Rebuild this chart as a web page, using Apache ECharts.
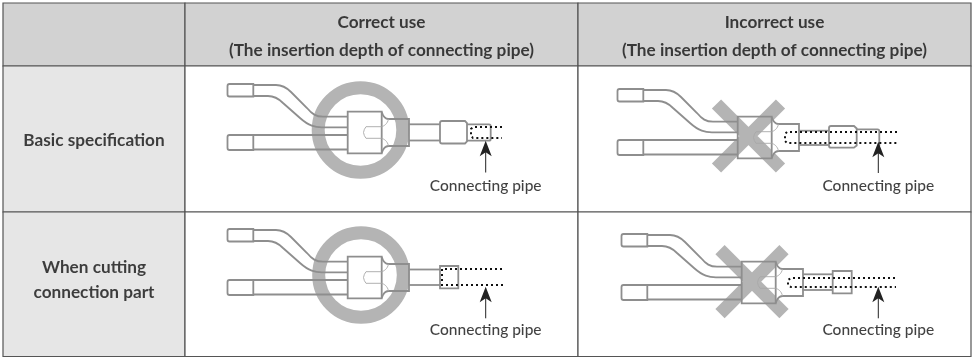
<!DOCTYPE html>
<html>
<head>
<meta charset="utf-8">
<style>html,body{margin:0;padding:0;background:#fff}#chart{width:974px;height:358px}</style>
<script src="https://cdn.jsdelivr.net/npm/echarts@6/dist/echarts.min.js"></script>
</head>
<body>
<div id="chart"></div>
<script>
// table layout (axis units are the picture's pixels)
const columnEdges = [3, 185, 578, 971];
const rowEdges = [3, 66, 212, 356.5];
const headerTitles = ["Correct use", "Incorrect use"];
const headerNote = "(The insertion depth of connecting pipe)";
const rowTitles = [["Basic specification"], ["When cutting", "connection part"]];
const pipeLabel = "Connecting pipe";

// where each of the four fittings sits: correct/incorrect, basic/cut
const fittingOffsets = [[0, 0], [390, 5], [0, 145], [394, 150]];

// the shared Y-branch fitting, drawn at offset 0,0
const fittingPaths = [
  "M229.5 84 L253.3 84 L253.3 96.5 L229.5 96.5 Q227.5 96.5 227.5 94.5 L227.5 86 Q227.5 84 229.5 84 Z",
  "M229.5 135 L253.3 135 L253.3 150 L229.5 150 Q227.5 150 227.5 148 L227.5 137 Q227.5 135 229.5 135 Z",
  "M253.3 85 L276 85 C282 85 287 88 291 92 L307 108 C312 114 316 116.7 323 116.7 L347.7 116.7",
  "M253.3 96 L268 96 C274 96 279 99 283 103 L300 118 C309 126 315 127.3 322 127.3 L347.7 127.3",
  "M253.3 135 L347.7 135",
  "M253.3 149.5 L347.7 149.5",
  "M347.7 111.7 L381.7 111.7 L381.7 153.3 L347.7 153.3 Z",
  "M381.7 112 C383 116 385 119 388.5 119 L409 119 L409 146 L388.5 146 C385 146 383 149 381.7 153",
];
const fittingThinPaths = [
  "M381.7 126.7 L366 126.7 Q364 129 363.5 132.5 Q364 136 366 138.3 L381.7 138.3",
  "M381.7 126.7 C384 126 387.5 124 388.5 119",
  "M381.7 138.3 C384 139 387.5 141 388.5 146",
];
const tulipFills = [
  "M381.7 112 C383 116 385 119 388.5 119 C387.5 124 384 126 381.7 126.7 Z",
  "M381.7 153 C383 149 385 146 388.5 146 C387.5 141 384 139 381.7 138.3 Z",
];

// what comes after the fitting differs per picture (full picture coordinates)
const tailPaths = [
  ["M409 124.3 L440 124.3", "M409 140.5 L440 140.5",
   "M442 121 L465 121 L467 123 L467 141.5 L465 143.5 L442 143.5 Q440 143.5 440 141.5 L440 123 Q440 121 442 121 Z",
   "M467 124.3 L489 124.3 Q490.7 124.3 490.7 126 L490.7 139 Q490.7 140.7 489 140.7 L467 140.7"],
  ["M798.7 130.7 L829 130.7", "M798.7 145 L829 145",
   "M831 126 L854 126 L856.7 128.5 L856.7 145.5 L854 147.7 L831 147.7 Q829 147.7 829 145.7 L829 128 Q829 126 831 126 Z",
   "M856.7 129.3 L877.5 129.3 Q879.3 129.3 879.3 131 L879.3 146"],
  ["M409 269.5 L440 269.5", "M409 285 L440 285",
   "M440 266 L458.3 266 L458.3 288.3 L440 288.3 Z"],
  ["M802.7 274.3 L832.7 274.3", "M802.7 290 L832.7 290",
   "M832.7 271 L851.7 271 L851.7 293.3 L832.7 293.3 Z"],
];
const insertedPipeDots = [
  "M502 127 L473 127 L471 129 L471 136 L473 138 L502 138",
  "M897 132 L787 132 L785 134 L785 141 L787 143 L899 143",
  "M502 269 L442 269 L442 285 L503 285",
  "M895 278 L791 278 L788 280 L788 285 L791 287 L896 287",
];

// correct = ring, incorrect = cross
const ringCentres = [[360.5, 130], [361, 275]];
const ringRadius = [42.3];
const crossCentres = [[748.5, 136], [752, 281.7]];
const crossArm = [32];

// arrow x, tip y, tail y
const arrowX = [485.7, 878.3, 485.7, 878.3];
const arrowTip = [140.7, 141.7, 286.7, 286.7];
const arrowTail = [172.5, 173, 318.3, 318.3];
const labelY = [186, 186, 330, 330];

const LINE = "#8e8e8e";
const MARK = "#b4b4b4";
const INK = "#111111";
const FONT = "Lato";

// turn "M x y L x y ..." into pixel path data through the axes
function mapPath(api, d, dx, dy) {
  const out = [];
  let pair = [];
  d.split(" ").forEach((p) => {
    const m = p.match(/^([A-Z]?)(-?[\d.]*)$/);
    if (m[1]) out.push(m[1]);
    if (m[2] !== "") {
      pair.push(+m[2]);
      if (pair.length === 2) {
        const c = api.coord([pair[0] + dx, pair[1] + dy]);
        out.push(c[0].toFixed(2), c[1].toFixed(2));
        pair = [];
      }
    }
  });
  return out.join(" ");
}

function pathSeries(list, style, z) {
  return {
    type: "custom", coordinateSystem: "cartesian2d", silent: true, clip: false, z: z,
    data: list.map((item, i) => [i]),
    renderItem: (params, api) => {
      const item = list[params.dataIndex];
      return { type: "path", shape: { pathData: mapPath(api, item.d, item.dx || 0, item.dy || 0) }, style: style };
    },
  };
}

const perFitting = (paths) => fittingOffsets.flatMap((o) => paths.map((d) => ({ d, dx: o[0], dy: o[1] })));

// cell fills and borders
const cells = [];
rowEdges.slice(0, -1).forEach((top, r) => {
  columnEdges.slice(0, -1).forEach((left, c) => {
    const fill = r === 0 ? "#d2d2d2" : c === 0 ? "#e6e6e6" : "#ffffff";
    cells.push({ x0: left, x1: columnEdges[c + 1], y0: top, y1: rowEdges[r + 1], fill });
  });
});

const cellSeries = {
  type: "custom", coordinateSystem: "cartesian2d", silent: true, clip: false, z: 1,
  data: cells.map((c, i) => [i]),
  renderItem: (params, api) => {
    const c = cells[params.dataIndex];
    const a = api.coord([c.x0, c.y0]);
    const b = api.coord([c.x1, c.y1]);
    return {
      type: "rect",
      shape: { x: a[0], y: a[1], width: b[0] - a[0], height: b[1] - a[1] },
      style: { fill: c.fill, stroke: "#555555", lineWidth: 1.2 },
    };
  },
};

const ringSeries = {
  type: "custom", coordinateSystem: "cartesian2d", silent: true, clip: false, z: 2,
  data: ringCentres.map((c, i) => [i]),
  renderItem: (params, api) => {
    const c = ringCentres[params.dataIndex];
    const p = api.coord(c);
    const r = api.coord([c[0] + ringRadius[0], c[1]])[0] - p[0];
    return { type: "circle", shape: { cx: p[0], cy: p[1], r }, style: { fill: "none", stroke: MARK, lineWidth: 13 } };
  },
};

const crossPaths = crossCentres.map((c) => {
  const a = crossArm[0];
  return { d: `M${c[0] - a} ${c[1] - a} L${c[0] + a} ${c[1] + a} M${c[0] + a} ${c[1] - a} L${c[0] - a} ${c[1] + a}` };
});

const arrowPaths = arrowX.map((x, i) => ({
  d: `M${x} ${arrowTip[i]} L${x + 6} ${arrowTip[i] + 15.5} L${x} ${arrowTip[i] + 11.5} L${x - 6} ${arrowTip[i] + 15.5} Z`,
}));
const arrowShafts = arrowX.map((x, i) => ({ d: `M${x} ${arrowTip[i] + 10} L${x} ${arrowTail[i]}` }));

// all the text, as scatter labels on the same axes
const textItems = [];
headerTitles.forEach((t, i) => {
  const cx = (columnEdges[i + 1] + columnEdges[i + 2]) / 2;
  textItems.push({ value: [cx, 22], text: t, bold: true }, { value: [cx, 50], text: headerNote, bold: true });
});
textItems.push({ value: [94, 140.5], text: rowTitles[0][0], bold: true });
textItems.push({ value: [94, 267.5], text: rowTitles[1][0], bold: true });
textItems.push({ value: [94, 292], text: rowTitles[1][1], bold: true });
arrowX.forEach((x, i) => textItems.push({ value: [x, labelY[i]], text: pipeLabel, bold: false }));

const textSeries = {
  type: "scatter", silent: true, symbolSize: 0, z: 10, clip: false,
  data: textItems.map((t) => ({
    value: t.value,
    label: {
      show: true, position: "inside", formatter: t.text, color: INK, textBorderWidth: 0,
      fontFamily: FONT, fontSize: t.bold ? 17.2 : 15.5, fontWeight: t.bold ? 700 : 500,
    },
  })),
};

const chart = echarts.init(document.getElementById("chart"), null, { renderer: "canvas" });
chart.setOption({
  animation: false,
  backgroundColor: "#ffffff",
  grid: { left: 0, right: 0, top: 0, bottom: 0 },
  xAxis: { type: "value", min: 0, max: 974, show: false },
  yAxis: { type: "value", min: 0, max: 358, inverse: true, show: false },
  series: [
    cellSeries,
    ringSeries,
    pathSeries(crossPaths, { fill: "none", stroke: MARK, lineWidth: 13 }, 2),
    pathSeries(perFitting(tulipFills), { fill: "#ffffff" }, 3),
    pathSeries(perFitting(fittingPaths).concat(tailPaths.flat().map((d) => ({ d }))), { fill: "none", stroke: LINE, lineWidth: 1.8 }, 4),
    pathSeries(perFitting(fittingThinPaths), { fill: "none", stroke: "#a8a8a8", lineWidth: 0.9 }, 4),
    pathSeries(insertedPipeDots.map((d) => ({ d })), { fill: "none", stroke: "#111111", lineWidth: 2, lineDash: [2, 3] }, 5),
    pathSeries(arrowShafts, { fill: "none", stroke: "#222222", lineWidth: 1 }, 6),
    pathSeries(arrowPaths, { fill: "#222222" }, 6),
    textSeries,
  ],
});
</script>
</body>
</html>
